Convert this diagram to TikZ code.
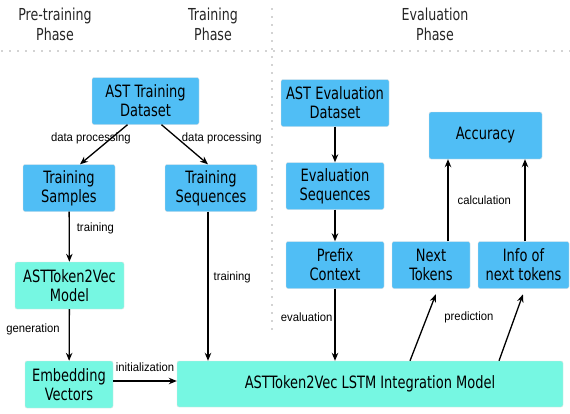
\documentclass[tikz,border=0pt]{standalone}
\usepackage{fontspec}
\setmainfont[FakeStretch=0.85]{DejaVu Sans Condensed}
\newfontfamily\labelfont[FakeStretch=0.94]{Liberation Sans}
\usetikzlibrary{arrows.meta, positioning}
\definecolor{databox}{RGB}{80,190,245}
\definecolor{modelbox}{RGB}{118,247,226}
\tikzstyle{data_node} = [rectangle, rounded corners=2pt, align=center, draw=black!12, fill=databox, font=\fontsize{17}{19}\selectfont, inner sep=0pt, minimum height=47pt]
\tikzstyle{model_node} = [data_node, fill=modelbox]
\tikzstyle{phase_title} = [align=center, font=\fontsize{16.5}{20}\selectfont, text=black!85]
\tikzstyle{flow_arrow} = [line width=1.3pt, -{Stealth[length=8pt, width=6.5pt]}]
\tikzstyle{flow_label} = [font=\labelfont\fontsize{12}{14}\selectfont, inner sep=1pt]
\tikzstyle{phase_line} = [gray!70, line width=1.6pt, dash pattern=on 0pt off 8pt, line cap=round]

\begin{document}
\begin{tikzpicture}[x=1pt, y=-1pt]
\useasboundingbox (0,0) rectangle (570,413);

% Phasen
\node (pre_title) [phase_title] at (55,24) {Pre-training\\Phase};
\node (train_title) [phase_title] at (213,24) {Training\\Phase};
\node (eval_title) [phase_title] at (435,24) {Evaluation\\Phase};
\coordinate (sep_left) at (2,51);
\coordinate (sep_right) at (570,51);
\coordinate (sep_top) at (272,9);
\coordinate (sep_bottom) at (272,336);
\draw [phase_line] (sep_left) -- (sep_right);
\draw [phase_line] (sep_top) -- (sep_bottom);

% Training
\node (train_data) [data_node, minimum width=107pt] at (145.5,101) {AST Training\\Dataset};
\node (samples) [data_node, minimum width=92pt] at (69,188) {Training\\Samples};
\node (sequences) [data_node, minimum width=92pt] at (211,188) {Training\\Sequences};
\node (w2v) [model_node, minimum width=109pt] at (69.5,285.5) {ASTToken2Vec\\Model};
\node (embed) [model_node, minimum width=88pt] at (69,384.5) {Embedding\\Vectors};
\node (lstm) [model_node, minimum width=386pt, minimum height=46pt] at (370,384) {ASTToken2Vec LSTM Integration Model};

% Evaluation
\node (eval_data) [data_node, minimum width=108pt] at (335,103) {AST Evaluation\\Dataset};
\node (eval_seq) [data_node, minimum width=98pt] at (335,186) {Evaluation\\Sequences};
\node (prefix) [data_node, minimum width=98pt] at (335,265) {Prefix\\Context};
\node (next) [data_node, minimum width=78pt] at (431,265) {Next\\Tokens};
\node (info) [data_node, minimum width=91pt] at (523.5,265) {Info of\\next tokens};
\node (accuracy) [data_node, minimum width=113pt] at (485.5,135.5) {Accuracy};

% Pfeile
\draw [flow_arrow] ([xshift=-18pt]train_data.south) -- node[flow_label, pos=.35, xshift=-20pt] {data processing} ([xshift=11pt]samples.north);
\draw [flow_arrow] ([xshift=16pt]train_data.south) -- node[flow_label, pos=.35, xshift=44pt] {data processing} ([xshift=-3pt]sequences.north);
\draw [flow_arrow] (samples) -- node[flow_label, right=6pt, pos=.34] {training} (w2v);
\draw [flow_arrow] (w2v) -- node[flow_label, left=8pt, pos=.4] {generation} (embed);
\draw [flow_arrow] ([xshift=-3pt]sequences.south) -- node[flow_label, right=4pt, pos=.44] {training} ([xshift=-3pt]sequences.south |- lstm.north);
\draw [flow_arrow] ([yshift=3.5pt]embed.east) -- node[flow_label, above=8pt] {initialization} ([yshift=3.5pt]embed.east -| lstm.west);
\draw [flow_arrow] (eval_data) -- (eval_seq);
\draw [flow_arrow] (eval_seq) -- (prefix);
\draw [flow_arrow] (prefix) -- node[flow_label, left=1pt, pos=.4] {evaluation} (prefix |- lstm.north);
\draw [flow_arrow, shorten >=6pt] ([xshift=40pt]lstm.north) -- node[flow_label, pos=.6, right=16pt] {prediction} ([xshift=7pt]next.south);
\draw [flow_arrow, shorten >=6pt] ([xshift=129pt]lstm.north) -- ([xshift=1.5pt]info.south);
\draw [flow_arrow] ([xshift=17pt]next.north) -- node[flow_label, pos=.5, right=8pt] {calculation} ([xshift=17pt]next.north |- accuracy.south);
\draw [flow_arrow] ([xshift=1.5pt]info.north) -- ([xshift=1.5pt]info.north |- accuracy.south);
\end{tikzpicture}
\end{document}
